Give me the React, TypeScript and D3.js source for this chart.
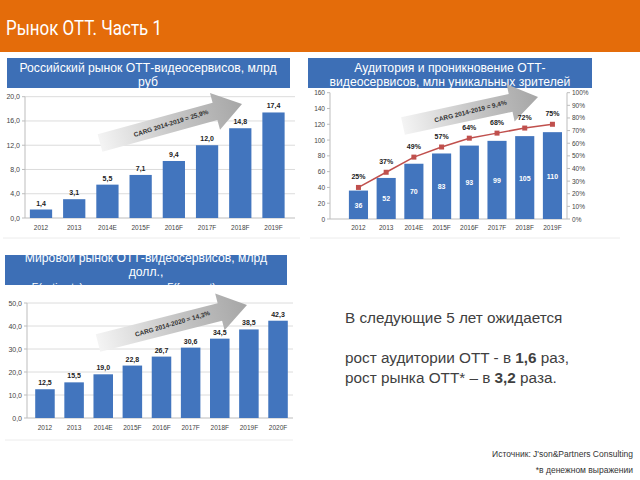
import React from "react";
import * as d3 from "d3";

const years8 = ["2012", "2013", "2014E", "2015F", "2016F", "2017F", "2018F", "2019F"];
const ruMarket = [1.4, 3.1, 5.5, 7.1, 9.4, 12.0, 14.8, 17.4];
const ruTicks = [0, 4, 8, 12, 16, 20];

const audience = [36, 52, 70, 83, 93, 99, 105, 110];
const penetration = [25, 37, 49, 57, 64, 68, 72, 75];
const audTicks = [0, 20, 40, 60, 80, 100, 120, 140, 160];
const penTicks = [0, 10, 20, 30, 40, 50, 60, 70, 80, 90, 100];

const years9 = ["2012", "2013", "2014E", "2015F", "2016F", "2017F", "2018F", "2019F", "2020F"];
const worldMarket = [12.5, 15.5, 19.0, 22.8, 26.7, 30.6, 34.5, 38.5, 42.3];
const worldTicks = [0, 10, 20, 30, 40, 50];

const BAR = "#4275BE";
const BOX = "#3D6FB6";
const FONT = "'Liberation Sans', Arial, sans-serif";
const comma = (v: number) => d3.format(".1f")(v).replace(".", ",");

function Arrow({ x1, y1, x2, y2, label, id }: any) {
  const dx = x2 - x1, dy = y2 - y1;
  const L = Math.sqrt(dx * dx + dy * dy);
  const ang = (Math.atan2(dy, dx) * 180) / Math.PI;
  const sw = 9, hw = 19, hl = 28;
  const pts = [[0, -sw], [L - hl, -sw], [L - hl, -hw], [L, 0], [L - hl, hw], [L - hl, sw], [0, sw]];
  return (
    <g transform={`translate(${x1},${y1}) rotate(${ang})`}>
      <defs>
        <linearGradient id={id} x1="0" x2="1" y1="0" y2="0">
          <stop offset="0" stopColor="#f4f4f4" />
          <stop offset="0.5" stopColor="#c8c8c8" />
          <stop offset="1" stopColor="#a6a6a6" />
        </linearGradient>
      </defs>
      <polygon points={pts.map((p) => p.join(",")).join(" ")} fill={`url(#${id})`} />
      <text x={L * 0.5} y={2} transform={`rotate(-2 ${L * 0.5} 0)`} textAnchor="middle" fontSize={6.5} fontWeight="bold" fill="#333" fontFamily={FONT}>
        {label}
      </text>
    </g>
  );
}

function BarChart({ cats, vals, ticks, x0, x1, y0, y1, gx0, gx1, max, arrow }: any) {
  const x = d3.scaleBand().domain(cats).range([x0, x1]).paddingInner(0.33).paddingOuter(0.165);
  const y = d3.scaleLinear().domain([0, max]).range([y0, y1]);
  return (
    <g fontFamily={FONT}>
      {ticks.map((t: number) => (
        <g key={t}>
          <line x1={gx0} x2={gx1} y1={y(t)} y2={y(t)} stroke={t === 0 ? "#bdbdbd" : "#dcdcdc"} strokeWidth={1} />
          <line x1={gx0 - 3} x2={gx0} y1={y(t)} y2={y(t)} stroke="#bdbdbd" />
          <text x={gx0 - 5} y={y(t) + 2.5} textAnchor="end" fontSize={7} fill="#444">{comma(t)}</text>
        </g>
      ))}
      <line x1={gx0} x2={gx0} y1={y(max)} y2={y(0)} stroke="#bdbdbd" />
      <Arrow {...arrow} />
      {cats.map((c: string, i: number) => (
        <g key={c}>
          <rect x={x(c)} y={y(vals[i])} width={x.bandwidth()} height={y(0) - y(vals[i])} fill={BAR} />
          <text x={x(c)! + x.bandwidth() / 2} y={y(vals[i]) - 4} textAnchor="middle" fontSize={7} fontWeight="bold" fill="#222">{comma(vals[i])}</text>
          <text x={x(c)! + x.bandwidth() / 2} y={y(0) + 12} textAnchor="middle" fontSize={6.5} fill="#444">{c}</text>
        </g>
      ))}
    </g>
  );
}

function AudienceChart() {
  const x = d3.scaleBand().domain(years8).range([344.6, 566.3]).paddingInner(0.31).paddingOuter(0.155);
  const yL = d3.scaleLinear().domain([0, 160]).range([219, 92.7]);
  const yR = d3.scaleLinear().domain([0, 100]).range([219, 92.7]);
  const ax0 = 330, ax1 = 567;
  const line = d3.line<number>().x((_, i) => x(years8[i])! + x.bandwidth() / 2).y((d) => yR(d));
  return (
    <g fontFamily={FONT}>
      <line x1={ax0} x2={ax0} y1={yL(160)} y2={yL(0)} stroke="#bdbdbd" />
      <line x1={ax1} x2={ax1} y1={yR(100)} y2={yR(0)} stroke="#bdbdbd" />
      <line x1={ax0} x2={ax1} y1={yL(0)} y2={yL(0)} stroke="#bdbdbd" />
      {audTicks.map((t) => (
        <g key={t}>
          <line x1={ax0 - 3} x2={ax0} y1={yL(t)} y2={yL(t)} stroke="#bdbdbd" />
          <text x={ax0 - 5} y={yL(t) + 2.5} textAnchor="end" fontSize={6.5} fill="#444">{t}</text>
        </g>
      ))}
      {penTicks.map((t) => (
        <g key={t}>
          <line x1={ax1} x2={ax1 + 3} y1={yR(t)} y2={yR(t)} stroke="#bdbdbd" />
          <text x={ax1 + 5} y={yR(t) + 2.5} fontSize={6.5} fill="#444">{t}%</text>
        </g>
      ))}
      <Arrow x1={403} y1={126} x2={538} y2={97} label="CARG 2014-2019 = 9,4%" id="g2" />
      {years8.map((c, i) => (
        <g key={c}>
          <rect x={x(c)} y={yL(audience[i])} width={x.bandwidth()} height={yL(0) - yL(audience[i])} fill={BAR} />
          <text x={x(c)! + x.bandwidth() / 2} y={(yL(audience[i]) + yL(0)) / 2 + 3} textAnchor="middle" fontSize={7} fontWeight="bold" fill="#fff">{audience[i]}</text>
          <text x={x(c)! + x.bandwidth() / 2} y={yL(0) + 11} textAnchor="middle" fontSize={6.5} fill="#444">{c}</text>
        </g>
      ))}
      <path d={line(penetration)!} fill="none" stroke="#C0504D" strokeWidth={1.5} />
      {penetration.map((p, i) => {
        const cx = x(years8[i])! + x.bandwidth() / 2;
        return (
          <g key={i}>
            <rect x={cx - 2.5} y={yR(p) - 2.5} width={5} height={5} fill="#C0504D" />
            <text x={cx} y={yR(p) - 8} textAnchor="middle" fontSize={7} fontWeight="bold" fill="#222">{p}%</text>
          </g>
        );
      })}
    </g>
  );
}

export default function App() {
  return (
    <svg width={640} height={480} style={{ position: "absolute", left: 0, top: 0, background: "#fff" }}>
      <rect x={0} y={0} width={640} height={52} fill="#E46C0A" />
      <text x={6} y={35} fontSize={20} fill="#fff" fontFamily="'Liberation Sans Narrow', 'Roboto', sans-serif" textLength={156} lengthAdjust="spacingAndGlyphs">Рынок ОТТ. Часть 1</text>

      {/* frames */}
      <line x1={3} x2={300} y1={238} y2={238} stroke="#ececec" />
      <line x1={310} x2={620} y1={238} y2={238} stroke="#ececec" />
      <line x1={5} x2={293} y1={440} y2={440} stroke="#ececec" />

      {/* Chart 1 */}
      <rect x={7} y={58} width={283} height={30} fill={BOX} />
      <g fontFamily={FONT} fill="#fff" fontSize={12.2} textAnchor="middle">
        <text x={148} y={71.5}>Российский рынок ОТТ-видеосервисов, млрд</text>
        <text x={148} y={85.5}>руб</text>
      </g>
      <BarChart cats={years8} vals={ruMarket} ticks={ruTicks} x0={24.4} x1={290.1} y0={218} y1={96.7} gx0={25} gx1={295} max={20}
        arrow={{ x1: 100, y1: 143, x2: 242, y2: 104, label: "CARG 2014-2019 = 25,9%", id: "g1" }} />

      {/* Chart 2 */}
      <rect x={308} y={58} width={284} height={30} fill={BOX} />
      <g fontFamily={FONT} fill="#fff" fontSize={12.2} textAnchor="middle">
        <text x={450} y={71.5}>Аудитория и проникновение ОТТ-</text>
        <text x={450} y={85.5}>видеосервисов, млн уникальных зрителей</text>
      </g>
      <AudienceChart />

      {/* Chart 3 */}
      <defs>
        <clipPath id="box3"><rect x={5} y={255} width={282} height={30} /></clipPath>
      </defs>
      <rect x={5} y={255} width={282} height={30} fill={BOX} />
      <g fontFamily={FONT} fill="#fff" textAnchor="middle" clipPath="url(#box3)">
        <text x={146} y={262} fontSize={12.2}>Мировой рынок ОТТ-видеосервисов, млрд</text>
        <text x={146} y={276} fontSize={12.2}>долл.,</text>
        <text x={146} y={291} fontSize={10}>E(estimate) - оценка данных, F(forecast) - прогноз</text>
      </g>
      <BarChart cats={years9} vals={worldMarket} ticks={worldTicks} x0={30.4} x1={292.6} y0={418} y1={303} gx0={27} gx1={293} max={50}
        arrow={{ x1: 98, y1: 343, x2: 247, y2: 305, label: "CARG 2014-2020 = 14,3%", id: "g3" }} />

      {/* Text */}
      <g fontFamily={FONT} fill="#404040" fontSize={15.3}>
        <text x={345} y={323}>В следующие <tspan>5</tspan> лет ожидается</text>
        <text x={345} y={363}>рост аудитории OTT - в <tspan fontWeight="bold">1,6</tspan> раз,</text>
        <text x={345} y={383}>рост рынка OTT* – в <tspan fontWeight="bold">3,2</tspan> раза.</text>
      </g>
      <g fontFamily={FONT} fill="#333" fontSize={8.5} textAnchor="end">
        <text x={633} y={457}>Источник: J'son&amp;Partners Consulting</text>
        <text x={633} y={473}>*в денежном выражении</text>
      </g>
    </svg>
  );
}
